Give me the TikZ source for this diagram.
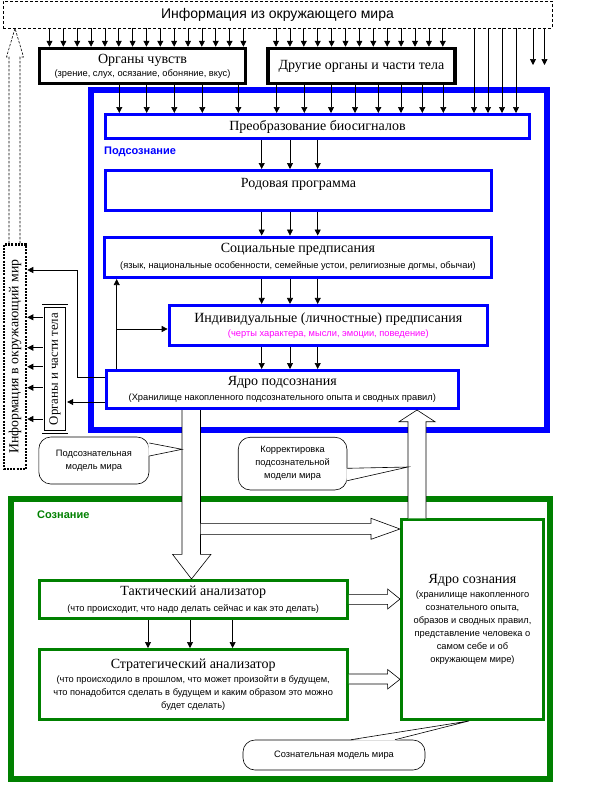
\documentclass[tikz,border=0pt]{standalone}
\usepackage{fontspec}
\setmainfont{Liberation Serif}
\newfontfamily\sansface{Liberation Sans}
\usetikzlibrary{arrows.meta}

\definecolor{subblue}{RGB}{0,0,255}
\definecolor{congreen}{RGB}{0,128,0}
\definecolor{traitpink}{RGB}{255,0,255}
\newcommand\titlefont{\rmfamily\fontsize{14}{15}\selectfont}
\newcommand\notefont{\sansface\fontsize{9.3}{13}\selectfont}

\begin{document}
\begin{tikzpicture}[x=1pt, y=-1pt,
  arr/.style={-{Triangle[width=6pt,length=6pt]}, line width=0.7pt},
  blackbox/.style={draw, line width=3.5pt, inner sep=0pt, align=center, font=\notefont},
  bluebox/.style={draw=subblue, line width=3pt, inner sep=0pt, align=center, font=\notefont},
  greenbox/.style={draw=congreen, line width=3pt, inner sep=0pt, align=center, font=\notefont},
  hollow/.style={draw, fill=white, line width=0.6pt},
  bubble/.style={draw, fill=white, rounded corners=12pt, line width=0.6pt, inner sep=0pt, align=center, font=\notefont}]
\useasboundingbox (0,0) rectangle (604,801);

% Frames of the two levels
\draw[subblue, line width=6pt] (91,90) rectangle (547,430); % subconscious
\draw[congreen, line width=5.5pt] (11,499) rectangle (550,779); % conscious
\node[anchor=west, inner sep=0pt, text=subblue, font=\sansface\bfseries\fontsize{11}{13}\selectfont] (sublabel) at (104,152) {Подсознание};
\node[anchor=west, inner sep=0pt, text=congreen, font=\sansface\bfseries\fontsize{11}{13}\selectfont] (conlabel) at (37,515) {Сознание};

% Outside world and the body
\node[draw, dash pattern=on 3pt off 2pt, line width=0.6pt, minimum width=549, minimum height=27, font=\sansface\fontsize{14}{16}\selectfont] (world) at (277.5,14.5) {Информация из окружающего мира};
\node[blackbox, minimum width=206, minimum height=35] (senses) at (142.5,66) {{\titlefont Органы чувств}\\(зрение, слух, осязание, обоняние, вкус)};
\node[blackbox, minimum width=187, minimum height=35, font=\titlefont] (body) at (361.5,66) {Другие органы и части тела};

% Subconscious boxes
\node[bluebox, minimum width=424, minimum height=24, font=\titlefont] (bio) at (317.5,126.5) {Преобразование биосигналов};
\node[bluebox, minimum width=386, minimum height=40, font=\titlefont, text depth=16pt] (genus) at (298.5,190.5) {Родовая программа};
\node[bluebox, minimum width=387, minimum height=40.5] (social) at (298,257.3) {{\titlefont Социальные предписания}\\[3pt](язык, национальные особенности, семейные устои, религиозные догмы, обычаи)};
\node[bluebox, minimum width=318.3, minimum height=40.3] (personal) at (328.3,325.6) {{\titlefont Индивидуальные (личностные) предписания}\\[1.5pt]{\color{traitpink}(черты характера, мысли, эмоции, поведение)}};
\node[bluebox, minimum width=351.7, minimum height=38] (subcore) at (282.3,389.5) {{\titlefont Ядро подсознания}\\[1.5pt](Хранилище накопленного подсознательного опыта и сводных правил)};

% Output side on the left
\node[draw, line width=2.5pt, dash pattern=on 2pt off 1.2pt, rotate=90, minimum width=224.2, minimum height=22.1, inner sep=0pt, font=\rmfamily\fontsize{13.8}{15}\selectfont] (outworld) at (15,356.7) {Информация в окружающий мир};
\node[draw, double, double distance=1.8pt, line width=0.8pt, rotate=90, minimum width=126, minimum height=23.5, inner sep=0pt, font=\rmfamily\fontsize{12.8}{15}\selectfont] (limbs) at (55,369) {Органы и части тела};

% Conscious boxes
\node[greenbox, minimum width=308.3, minimum height=38] (tactic) at (193.2,599.5) {{\titlefont Тактический анализатор}\\[2.5pt](что происходит, что надо делать сейчас и как это делать)};
\node[greenbox, minimum width=308.3, minimum height=70] (strategy) at (193.2,684.5) {{\titlefont Стратегический анализатор}\\[1pt](что происходило в прошлом, что может произойти в будущем,\\что понадобится сделать в будущем и каким образом это можно\\будет сделать)};
\node[greenbox, minimum width=142, minimum height=199.7] (concore) at (472.5,619.6) {{\titlefont Ядро сознания}\\[1pt](хранилище накопленного\\сознательного опыта,\\образов и сводных правил,\\представление человека о\\самом себе и об\\окружающем мире)};

% Signals from the world
\foreach \i [evaluate=\i as \x using 49.5+13.85*\i] in {0,...,14}
  \draw[arr] (\x,0 |- world.south) -- (\x,0 |- senses.north);
\foreach \i [evaluate=\i as \x using 276+13.9*\i] in {0,...,12}
  \draw[arr] (\x,0 |- world.south) -- (\x,0 |- body.north);
\foreach \x in {474,488,502,516}
  \draw[arr] (\x,0 |- world.south) -- (\x,0 |- bio.north);
\foreach \x [count=\i] in {533,544.5} {
  \coordinate (loose\i) at (\x,65);
  \draw[arr] (\x,0 |- world.south) -- (loose\i);
}

% Signals into the subconscious
\foreach \x in {119.3,146.7,174.3,202.3,238.3}
  \draw[arr] (\x,0 |- senses.south) -- (\x,0 |- bio.north);
\foreach \x in {276.7,304.3,331,355,378.3,401,422.3,443.3}
  \draw[arr] (\x,0 |- body.south) -- (\x,0 |- bio.north);
\foreach \x in {261.7,290,317.7} {
  \draw[arr] (\x,0 |- bio.south) -- (\x,0 |- genus.north);
  \draw[arr] (\x,0 |- genus.south) -- (\x,0 |- social.north);
  \draw[arr] (\x,0 |- social.south) -- (\x,0 |- personal.north);
  \draw[arr] (\x,0 |- personal.south) -- (\x,0 |- subcore.north);
}

% Feedback from the core
\draw[arr] (116.7,0 |- subcore.north) -- (116.7,0 |- social.south);
\draw[arr] (116.7,329) -- (personal.west |- 0,329);
\draw[arr] (subcore.west |- 0,377) -| (77,270) -- (outworld.south |- 0,270);
\draw[arr] (subcore.west |- 0,402) -- (limbs.south |- 0,402);
\foreach \y in {317.3,347.7,366.7,387.7,419}
  \draw[arr] (limbs.north |- 0,\y) -- (outworld.south |- 0,\y);

% Dashed hollow arrow back to the world
\draw[dash pattern=on 2.5pt off 1.5pt, line width=0.6pt] (9,0 |- outworld.east) -- (9,57) -- (6.5,57) -- (15,0 |- world.south) -- (23.5,57) -- (20,57) -- (20,0 |- outworld.east);

\foreach \x in {148,190,232.6}
  \draw[arr] (\x,0 |- tactic.south) -- (\x,0 |- strategy.north);

% Hollow arrows between the levels
\draw[hollow] (182,0 |- subcore.south) -- (182,554.3) -- (172.5,554.3) -- (191.5,0 |- tactic.north) -- (211,554.3) -- (200.5,554.3) -- (200.5,0 |- subcore.south);
\draw[hollow] (200.5,523.3) -- (371,523.3) -- (371,518.3) -- (concore.west |- 0,529) -- (371,539.3) -- (371,534.3) -- (200.5,534.3);
\draw[hollow] (tactic.east |- 0,594.3) -- (387.6,594.3) -- (387.6,589) -- (concore.west |- 0,599) -- (387.6,609) -- (387.6,604.3) -- (tactic.east |- 0,604.3);
\draw[hollow] (strategy.east |- 0,674) -- (387.6,674) -- (387.6,669.5) -- (concore.west |- 0,679.3) -- (387.6,689) -- (387.6,684) -- (strategy.east |- 0,684);
\draw[hollow] (408,0 |- concore.north) -- (408,421.7) -- (399,421.7) -- (417,0 |- subcore.south) -- (435,421.7) -- (426,421.7) -- (426,0 |- concore.north);

% Callouts
\node[bubble, minimum width=110.2, minimum height=47] (submodel) at (93.9,460.5) {Подсознательная\\модель мира};
\coordinate (tip1) at (182,449.3);
\fill[white] ([xshift=-1pt]submodel.east |- 0,443) -- (tip1) -- ([xshift=-1pt]submodel.east |- 0,456) -- cycle;
\draw[line width=0.6pt] (submodel.east |- 0,443) -- (tip1) -- (submodel.east |- 0,456);

\node[bubble, minimum width=108.7, minimum height=52.7] (fixmodel) at (292.6,463.6) {Корректировка\\подсознательной\\модели мира};
\coordinate (tip2) at (408,467);
\fill[white] ([xshift=-1pt]fixmodel.east |- 0,468.3) -- (tip2) -- ([xshift=-1pt]fixmodel.east |- 0,480.7) -- cycle;
\draw[line width=0.6pt] (fixmodel.east |- 0,468.3) -- (tip2) -- (fixmodel.east |- 0,480.7);

\node[bubble, minimum width=182, minimum height=30] (conmodel) at (334,755) {Сознательная модель мира};
\coordinate (tip3) at (469,0 |- concore.south);
\fill[white] ([yshift=-1pt]351,0 |- conmodel.north) -- (tip3) -- ([yshift=-1pt]395,0 |- conmodel.north) -- cycle;
\draw[line width=0.6pt] (351,0 |- conmodel.north) -- (tip3) -- (395,0 |- conmodel.north);

\end{tikzpicture}
\end{document}
